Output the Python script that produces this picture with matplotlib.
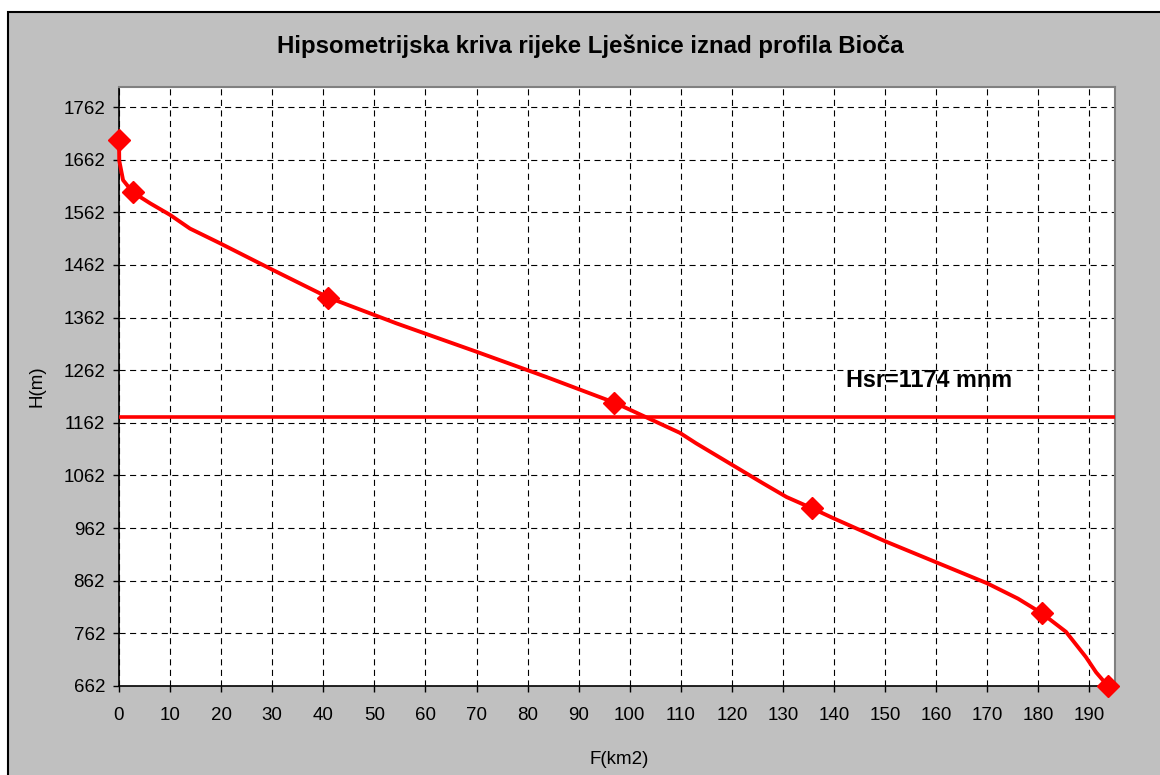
import matplotlib.pyplot as plt
from matplotlib.patches import Rectangle

plt.rcParams['font.family'] = ['Liberation Sans', 'DejaVu Sans']

# Hypsometric curve points (area F in km2, altitude H in m)
F_points = [0, 2.7, 41, 97, 135.6, 180.7, 193.6]
H_points = [1700, 1600, 1400, 1200, 1000, 800, 662]

# Traced curve between the points
F_curve = [0, 0.05, 0.8, 2.7, 6.1, 10, 13.9, 19.8, 30.2, 41, 54.3, 70, 83.7, 97.1,
           109.8, 113, 126.1, 130.7, 133.5, 135.6, 139.8, 150, 160, 170, 176,
           180.7, 185.4, 189.3, 191.3, 193.6]
H_curve = [1700, 1660, 1623, 1600, 1579, 1557, 1531, 1503, 1452, 1400, 1351, 1297, 1249, 1200,
           1143, 1123, 1047, 1021, 1009, 1000, 981, 937, 897, 857, 828,
           800, 765, 717, 688, 662]

H_mean = 1174
y_ticks = list(range(662, 1763, 100))
x_ticks = list(range(0, 191, 10))

fig = plt.figure(figsize=(11.6, 7.75), dpi=100)

# grey chart area with black frame on top/left
fig.patches.append(Rectangle((8 / 1160, -0.05), 1.05, 0.05 + 1 - 12 / 775,
                             transform=fig.transFigure, facecolor='#C0C0C0',
                             edgecolor='black', linewidth=1.5, zorder=-10))

ax = fig.add_axes([119 / 1160, 1 - 686 / 775, (1115 - 119) / 1160, (686 - 87) / 775])
ax.set_facecolor('white')

ax.set_xlim(0, 195)
ax.set_ylim(662, 1800)
ax.set_xticks(x_ticks)
ax.set_yticks(y_ticks)
ax.tick_params(axis='both', direction='out', length=4, width=1, labelsize=13.5, color='black')
ax.tick_params(axis='x', pad=11)
ax.tick_params(axis='y', pad=6)

ax.grid(True, color='black', linestyle=(0, (5.5, 4)), linewidth=0.8, zorder=1)
ax.set_axisbelow(True)

for side in ['left', 'bottom']:
    ax.spines[side].set_color('black')
    ax.spines[side].set_linewidth(1.2)
for side in ['top', 'right']:
    ax.spines[side].set_color('#808080')
    ax.spines[side].set_linewidth(1.5)

ax.plot(F_curve, H_curve, color='red', linewidth=2.8, zorder=3, clip_on=False,
        solid_joinstyle='round')
ax.plot(F_points, H_points, linestyle='none', marker='D', markersize=11.5,
        color='red', markeredgecolor='red', zorder=4, clip_on=False)

ax.axhline(H_mean, color='red', linewidth=2.6, zorder=3)
ax.text(142.4, 1231, 'Hsr=%d mnm' % H_mean, fontsize=16.8, fontweight='bold',
        ha='left', va='baseline', zorder=5)

fig.text(0.509, 0.940, 'Hipsometrijska kriva rijeke Lješnice iznad profila Bioča',
         fontsize=17.3, fontweight='bold', ha='center', va='center')
fig.text(619 / 1160, 1 - 760 / 775, 'F(km2)', fontsize=13.5, ha='center', va='center')
fig.text(37 / 1160, 1 - 386 / 775, 'H(m)', fontsize=13.5, ha='center', va='center',
         rotation=90)

fig.savefig('out.png', dpi=100, facecolor='white')
